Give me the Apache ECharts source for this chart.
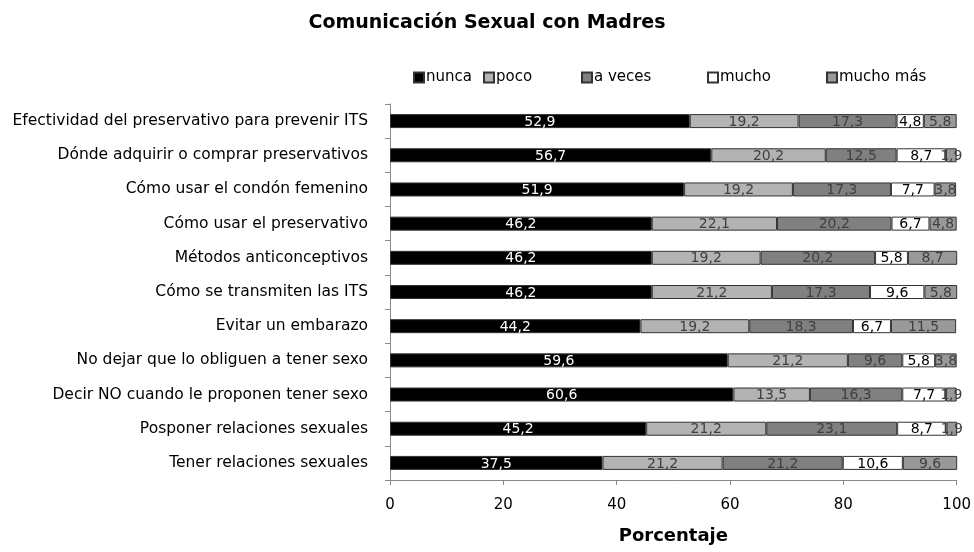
<!DOCTYPE html>
<html><head><meta charset="utf-8">
<script src="https://cdn.jsdelivr.net/npm/echarts@6/dist/echarts.min.js"></script>
<style>html,body{margin:0;padding:0;background:#fff}#c{width:974px;height:552px}</style>
</head><body><div id="c"></div>
<script>
const categories = [
  "Efectividad del preservativo para prevenir ITS",
  "Dónde adquirir o comprar preservativos",
  "Cómo usar el condón femenino",
  "Cómo usar el preservativo",
  "Métodos anticonceptivos",
  "Cómo se transmiten las ITS",
  "Evitar un embarazo",
  "No dejar que lo obliguen a tener sexo",
  "Decir NO cuando le proponen tener sexo",
  "Posponer relaciones sexuales",
  "Tener relaciones sexuales"
];
const seriesNames = ["nunca", "poco", "a veces", "mucho", "mucho más"];
const nunca    = [52.9, 56.7, 51.9, 46.2, 46.2, 46.2, 44.2, 59.6, 60.6, 45.2, 37.5];
const poco     = [19.2, 20.2, 19.2, 22.1, 19.2, 21.2, 19.2, 21.2, 13.5, 21.2, 21.2];
const aVeces   = [17.3, 12.5, 17.3, 20.2, 20.2, 17.3, 18.3, 9.6, 16.3, 23.1, 21.2];
const mucho    = [4.8, 8.7, 7.7, 6.7, 5.8, 9.6, 6.7, 5.8, 7.7, 8.7, 10.6];
const muchoMas = [5.8, 1.9, 3.8, 4.8, 8.7, 5.8, 11.5, 3.8, 1.9, 1.9, 9.6];
const xTicks = [0, 20, 40, 60, 80, 100];

const FONT = "DejaVu Sans";
const colors = ["#000000", "#b3b3b3", "#808080", "#ffffff", "#999999"];
const labelColors = ["#ffffff", "#404040", "#404040", "#000000", "#404040"];
const values = [nunca, poco, aVeces, mucho, muchoMas];
const legendLeft = [408, 478, 576, 702, 821];

const chart = echarts.init(document.getElementById('c'), null, {renderer: 'canvas'});
chart.setOption({
  animation: false,
  textStyle: {fontFamily: FONT},
  title: {
    text: "Comunicación Sexual con Madres",
    left: 'center', top: 9,
    textStyle: {fontFamily: FONT, fontSize: 19, fontWeight: 'bold', color: '#000'}
  },
  legend: seriesNames.map((n, i) => ({
    data: [n], left: legendLeft[i], top: 65,
    icon: 'rect', itemWidth: 10, itemHeight: 10, itemGap: 4,
    textStyle: {fontFamily: FONT, fontSize: 15, color: '#000', padding: [0, 0, 0, -3]}
  })),
  grid: {left: 390, right: 16, top: 104, bottom: 72, containLabel: false},
  xAxis: {
    type: 'value', min: 0, max: 100, interval: 20,
    name: "Porcentaje", nameLocation: 'middle', nameGap: 47,
    nameTextStyle: {fontFamily: FONT, fontSize: 18, fontWeight: 'bold', color: '#000'},
    axisLine: {show: true, lineStyle: {color: '#888', width: 1}},
    axisTick: {show: true, length: 5, lineStyle: {color: '#888'}},
    axisLabel: {fontFamily: FONT, fontSize: 15, color: '#000', margin: 18,
      formatter: v => xTicks.includes(v) ? String(v) : ''},
    splitLine: {show: false}
  },
  yAxis: {
    type: 'category', data: categories, inverse: true,
    axisLine: {show: true, lineStyle: {color: '#888', width: 1}},
    axisTick: {show: true, length: 5, lineStyle: {color: '#888'}},
    axisLabel: {fontFamily: FONT, fontSize: 15.5, color: '#000', margin: 22}
  },
  series: seriesNames.map((n, i) => ({
    name: n, type: 'bar', stack: 'total', barWidth: 14,
    data: values[i],
    itemStyle: {color: colors[i], borderColor: '#333', borderWidth: 1},
    label: {
      show: true, position: 'inside', fontFamily: FONT, fontSize: 14,
      color: labelColors[i], offset: [0, 1],
      formatter: p => String(p.value).replace('.', ',')
    }
  }))
});
</script></body></html>
